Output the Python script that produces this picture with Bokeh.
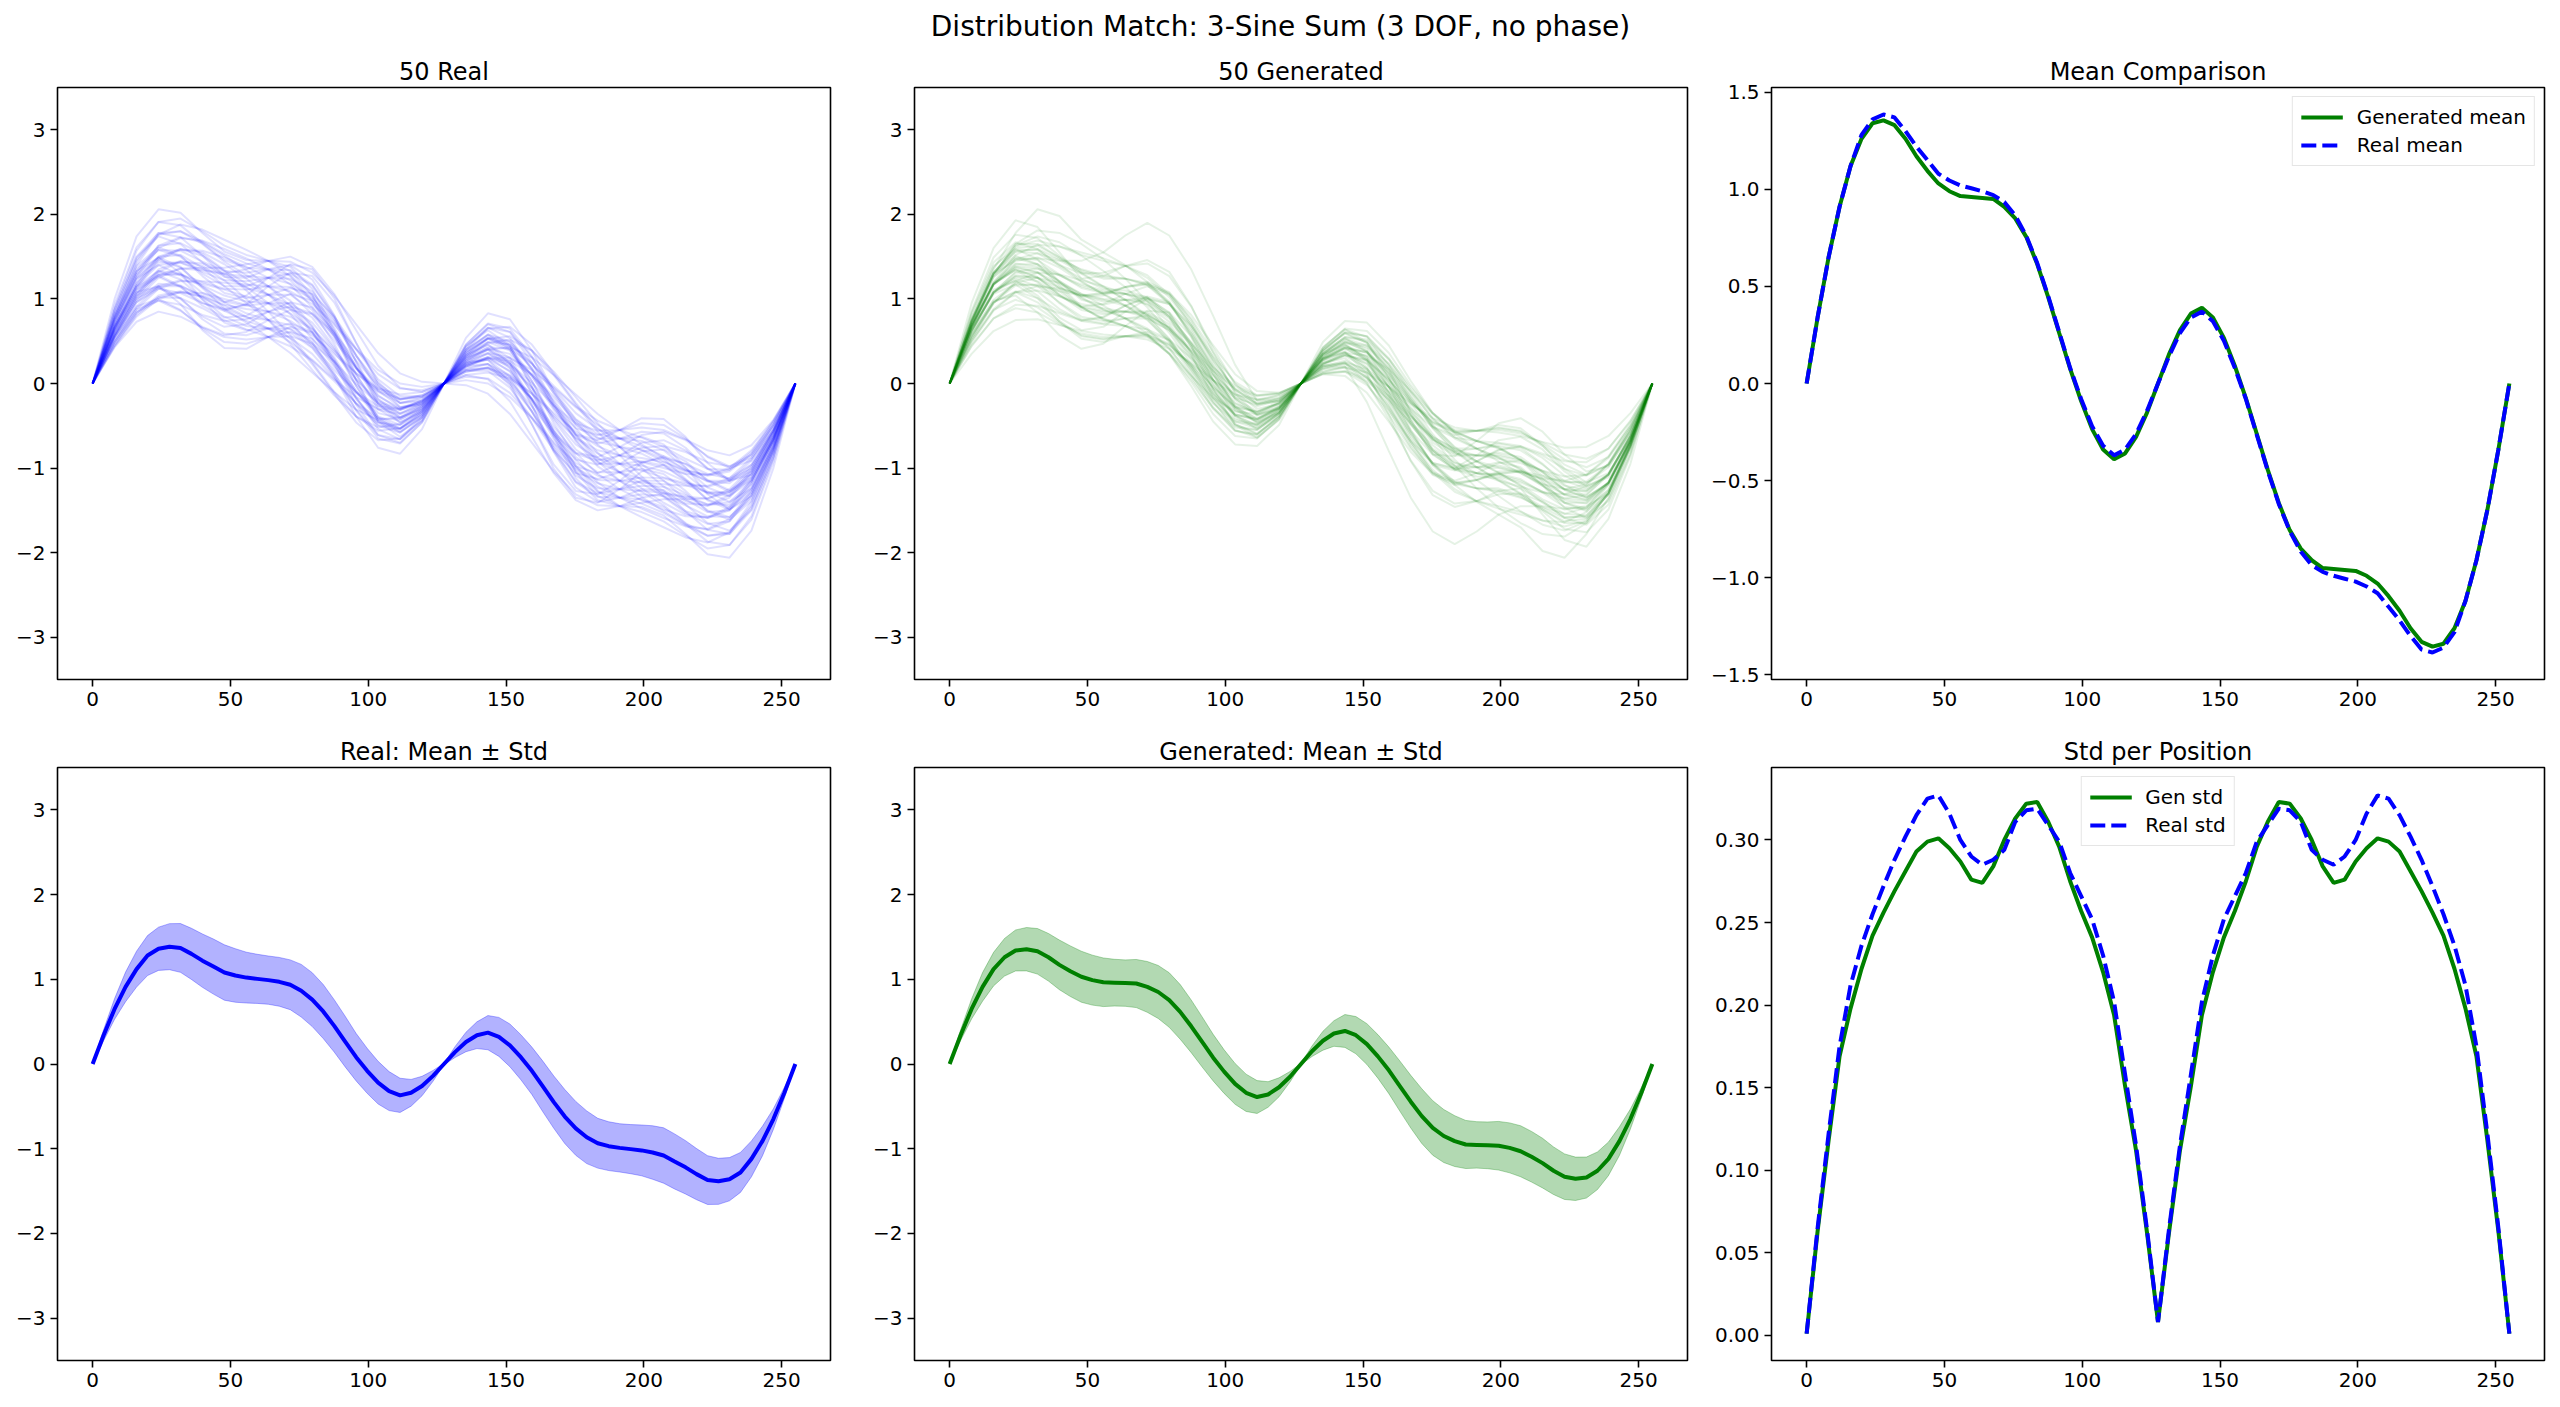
from bokeh.plotting import figure
from bokeh.models import Range1d, FixedTicker, CustomJSTickFormatter, Legend, LegendItem, Label
from bokeh.layouts import column, row
from bokeh.embed import file_html
from bokeh.resources import INLINE

FONT = "DejaVu Sans"
BLUE = "#0000ff"
GREEN = "#008000"

SUPTITLE = "Distribution Match: 3-Sine Sum (3 DOF, no phase)"
TITLES = ["50 Real", "50 Generated", "Mean Comparison",
          "Real: Mean \u00b1 Std", "Generated: Mean \u00b1 Std", "Std per Position"]

X_TICKS = [0, 50, 100, 150, 200, 250]
Y_TICKS_CURVES = [-3, -2, -1, 0, 1, 2, 3]
Y_TICKS_MEAN = [-1.5, -1.0, -0.5, 0.0, 0.5, 1.0, 1.5]
Y_TICKS_STD = [0.0, 0.05, 0.10, 0.15, 0.20, 0.25, 0.30]

# sample positions: 33 for the individual curves, 65 for the mean / std curves
X33 = [0, 7.97, 15.94, 23.91, 31.88, 39.84, 47.81, 55.78, 63.75, 71.72, 79.69,
       87.66, 95.63, 103.59, 111.56, 119.53, 127.5, 135.47, 143.44, 151.41, 159.38,
       167.34, 175.31, 183.28, 191.25, 199.22, 207.19, 215.16, 223.13, 231.09,
       239.06, 247.03, 255]
X65 = [0, 3.98, 7.97, 11.95, 15.94, 19.92, 23.91, 27.89, 31.88, 35.86, 39.84, 43.83,
       47.81, 51.8, 55.78, 59.77, 63.75, 67.73, 71.72, 75.7, 79.69, 83.67, 87.66, 91.64,
       95.63, 99.61, 103.59, 107.58, 111.56, 115.55, 119.53, 123.52, 127.5, 131.48,
       135.47, 139.45, 143.44, 147.42, 151.41, 155.39, 159.38, 163.36, 167.34, 171.33,
       175.31, 179.3, 183.28, 187.27, 191.25, 195.23, 199.22, 203.2, 207.19, 211.17,
       215.16, 219.14, 223.13, 227.11, 231.09, 235.08, 239.06, 243.05, 247.03, 251.02, 255]

REAL_CURVES = [
    [0,.46,.83,1.04,1.09,1.02,.88,.72,.55,.36,.13,-.10,-.31,-.43,-.40,-.25,0,.25,.40,.43,.31,.10,-.13,-.36,-.55,-.72,-.88,-1.02,-1.09,-1.04,-.83,-.46,0],
    [0,.62,1.04,1.15,1.01,.76,.59,.57,.65,.71,.61,.31,-.09,-.43,-.54,-.37,0,.37,.54,.43,.09,-.31,-.61,-.71,-.65,-.57,-.59,-.76,-1.01,-1.15,-1.04,-.62,0],
    [0,.64,1.11,1.33,1.30,1.14,.96,.83,.75,.64,.43,.11,-.24,-.49,-.54,-.35,0,.35,.54,.49,.24,-.11,-.43,-.64,-.75,-.83,-.96,-1.14,-1.30,-1.33,-1.11,-.64,0],
    [0,.66,1.19,1.50,1.59,1.51,1.33,1.10,.85,.57,.25,-.10,-.39,-.56,-.53,-.33,0,.33,.53,.56,.39,.10,-.25,-.57,-.85,-1.10,-1.33,-1.51,-1.59,-1.50,-1.19,-.66,0],
    [0,.68,1.14,1.28,1.15,.92,.78,.80,.95,1.06,.98,.66,.19,-.23,-.42,-.31,0,.31,.42,.23,-.19,-.66,-.98,-1.06,-.95,-.80,-.78,-.92,-1.15,-1.28,-1.14,-.68,0],
    [0,.56,.96,1.12,1.07,.95,.88,.93,1.05,1.13,1.06,.79,.41,.05,-.15,-.15,0,.15,.15,-.05,-.41,-.79,-1.06,-1.13,-1.05,-.93,-.88,-.95,-1.07,-1.12,-.96,-.56,0],
    [0,.72,1.29,1.63,1.73,1.67,1.51,1.34,1.15,.92,.61,.25,-.11,-.35,-.41,-.27,0,.27,.41,.35,.11,-.25,-.61,-.92,-1.15,-1.34,-1.51,-1.67,-1.73,-1.63,-1.29,-.72,0],
    [0,.74,1.24,1.40,1.28,1.07,.96,1.04,1.25,1.41,1.35,1.01,.48,-.01,-.28,-.25,0,.25,.28,.01,-.48,-1.01,-1.35,-1.41,-1.25,-1.04,-.96,-1.07,-1.28,-1.40,-1.24,-.74,0],
    [0,.76,1.32,1.58,1.57,1.44,1.33,1.31,1.35,1.34,1.17,.80,.33,-.08,-.28,-.23,0,.23,.28,.08,-.33,-.80,-1.17,-1.34,-1.35,-1.31,-1.33,-1.44,-1.57,-1.58,-1.32,-.76,0],
    [0,.78,1.40,1.76,1.88,1.82,1.70,1.58,1.45,1.27,.98,.59,.18,-.15,-.29,-.21,0,.21,.29,.15,-.18,-.59,-.98,-1.27,-1.45,-1.58,-1.70,-1.82,-1.88,-1.76,-1.40,-.78,0],
    [0,.43,.73,.85,.79,.66,.55,.52,.55,.56,.47,.26,-.01,-.23,-.31,-.22,0,.22,.31,.23,.01,-.26,-.47,-.56,-.55,-.52,-.55,-.66,-.79,-.85,-.73,-.43,0],
    [0,.45,.81,1.02,1.08,1.03,.92,.79,.65,.49,.28,.05,-.16,-.30,-.31,-.20,0,.20,.31,.30,.16,-.05,-.28,-.49,-.65,-.79,-.92,-1.03,-1.08,-1.02,-.81,-.45,0],
    [0,.76,1.29,1.49,1.38,1.13,.89,.78,.75,.69,.49,.12,-.32,-.65,-.71,-.46,0,.46,.71,.65,.32,-.12,-.49,-.69,-.75,-.78,-.89,-1.13,-1.38,-1.49,-1.29,-.76,0],
    [0,.49,.84,.98,.93,.81,.74,.76,.85,.91,.83,.60,.27,-.03,-.19,-.16,0,.16,.19,.03,-.27,-.60,-.83,-.91,-.85,-.76,-.74,-.81,-.93,-.98,-.84,-.49,0],
    [0,.51,.91,1.15,1.22,1.18,1.11,1.03,.95,.83,.65,.39,.12,-.09,-.19,-.14,0,.14,.19,.09,-.12,-.39,-.65,-.83,-.95,-1.03,-1.11,-1.18,-1.22,-1.15,-.91,-.51,0],
    [0,.81,1.39,1.61,1.51,1.27,1.07,1.01,1.05,1.05,.87,.47,-.03,-.44,-.58,-.40,0,.40,.58,.44,.03,-.47,-.87,-1.05,-1.05,-1.01,-1.07,-1.27,-1.51,-1.61,-1.39,-.81,0],
    [0,.83,1.46,1.78,1.80,1.65,1.44,1.28,1.15,.98,.68,.27,-.18,-.50,-.58,-.38,0,.38,.58,.50,.18,-.27,-.68,-.98,-1.15,-1.28,-1.44,-1.65,-1.80,-1.78,-1.46,-.83,0],
    [0,.57,1.02,1.28,1.36,1.34,1.29,1.27,1.25,1.18,1.02,.74,.40,.11,-.06,-.08,0,.08,.06,-.11,-.40,-.74,-1.02,-1.18,-1.25,-1.27,-1.29,-1.34,-1.36,-1.28,-1.02,-.57,0],
    [0,.87,1.49,1.74,1.65,1.43,1.26,1.25,1.35,1.40,1.23,.81,.25,-.24,-.46,-.34,0,.34,.46,.24,-.25,-.81,-1.23,-1.40,-1.35,-1.25,-1.26,-1.43,-1.65,-1.74,-1.49,-.87,0],
    [0,.89,1.57,1.91,1.95,1.80,1.63,1.52,1.45,1.33,1.05,.61,.11,-.30,-.46,-.32,0,.32,.46,.30,-.11,-.61,-1.05,-1.33,-1.45,-1.52,-1.63,-1.80,-1.95,-1.91,-1.57,-.89,0],
    [0,.55,.91,1.00,.87,.65,.49,.47,.55,.61,.53,.27,-.09,-.39,-.49,-.33,0,.33,.49,.39,.09,-.27,-.53,-.61,-.55,-.47,-.49,-.65,-.87,-1.00,-.91,-.55,0],
    [0,.57,.98,1.18,1.16,1.02,.86,.74,.65,.54,.35,.06,-.24,-.46,-.49,-.31,0,.31,.49,.46,.24,-.06,-.35,-.54,-.65,-.74,-.86,-1.02,-1.16,-1.18,-.98,-.57,0],
    [0,.58,1.06,1.35,1.45,1.39,1.22,1.00,.75,.47,.16,-.14,-.39,-.52,-.48,-.29,0,.29,.48,.52,.39,.14,-.16,-.47,-.75,-1.00,-1.22,-1.39,-1.45,-1.35,-1.06,-.58,0],
    [0,.60,1.01,1.13,1.00,.79,.67,.70,.85,.96,.90,.62,.20,-.18,-.36,-.27,0,.27,.36,.18,-.20,-.62,-.90,-.96,-.85,-.70,-.67,-.79,-1.00,-1.13,-1.01,-.60,0],
    [0,.62,1.08,1.30,1.29,1.16,1.04,.97,.95,.89,.72,.41,.05,-.24,-.35,-.25,0,.25,.35,.24,-.05,-.41,-.72,-.89,-.95,-.97,-1.04,-1.16,-1.29,-1.30,-1.08,-.62,0],
    [0,.64,1.16,1.48,1.59,1.55,1.41,1.24,1.05,.82,.53,.20,-.11,-.31,-.36,-.23,0,.23,.36,.31,.11,-.20,-.53,-.82,-1.05,-1.24,-1.41,-1.55,-1.59,-1.48,-1.16,-.64,0],
    [0,.66,1.11,1.26,1.14,.95,.86,.94,1.15,1.31,1.27,.96,.48,.02,-.23,-.21,0,.21,.23,-.02,-.48,-.96,-1.27,-1.31,-1.15,-.94,-.86,-.95,-1.14,-1.26,-1.11,-.66,0],
    [0,.68,1.19,1.43,1.43,1.32,1.22,1.21,1.25,1.24,1.09,.76,.33,-.04,-.23,-.19,0,.19,.23,.04,-.33,-.76,-1.09,-1.24,-1.25,-1.21,-1.22,-1.32,-1.43,-1.43,-1.19,-.68,0],
    [0,.70,1.26,1.60,1.72,1.69,1.59,1.48,1.35,1.17,.90,.55,.18,-.10,-.23,-.17,0,.17,.23,.10,-.18,-.55,-.90,-1.17,-1.35,-1.48,-1.59,-1.69,-1.72,-1.60,-1.26,-.70,0],
    [0,1.00,1.74,2.06,2.02,1.78,1.56,1.46,1.45,1.38,1.12,.63,.04,-.45,-.63,-.44,0,.44,.63,.45,-.04,-.63,-1.12,-1.38,-1.45,-1.46,-1.56,-1.78,-2.02,-2.06,-1.74,-1.00,0],
    [0,.66,1.08,1.15,.94,.63,.42,.41,.55,.67,.60,.29,-.16,-.54,-.66,-.44,0,.44,.66,.54,.16,-.29,-.60,-.67,-.55,-.41,-.42,-.63,-.94,-1.15,-1.08,-.66,0],
    [0,.68,1.15,1.33,1.23,1.00,.79,.68,.65,.60,.42,.08,-.31,-.61,-.66,-.42,0,.42,.66,.61,.31,-.08,-.42,-.60,-.65,-.68,-.79,-1.00,-1.23,-1.33,-1.15,-.68,0],
    [0,.70,1.23,1.50,1.52,1.37,1.15,.95,.75,.53,.23,-.12,-.46,-.67,-.65,-.40,0,.40,.65,.67,.46,.12,-.23,-.53,-.75,-.95,-1.15,-1.37,-1.52,-1.50,-1.23,-.70,0],
    [0,.44,.79,1.00,1.08,1.07,1.00,.93,.85,.74,.57,.35,.12,-.06,-.13,-.10,0,.10,.13,.06,-.12,-.35,-.57,-.74,-.85,-.93,-1.00,-1.07,-1.08,-1.00,-.79,-.44,0],
    [0,.74,1.26,1.46,1.37,1.15,.97,.92,.95,.95,.78,.43,-.03,-.40,-.53,-.37,0,.37,.53,.40,.03,-.43,-.78,-.95,-.95,-.92,-.97,-1.15,-1.37,-1.46,-1.26,-.74,0],
    [0,.76,1.33,1.63,1.66,1.53,1.34,1.18,1.05,.88,.60,.22,-.18,-.46,-.53,-.35,0,.35,.53,.46,.18,-.22,-.60,-.88,-1.05,-1.18,-1.34,-1.53,-1.66,-1.63,-1.33,-.76,0],
    [0,.49,.88,1.12,1.21,1.21,1.19,1.17,1.15,1.09,.94,.70,.41,.16,0,-.04,0,.04,0,-.16,-.41,-.70,-.94,-1.09,-1.15,-1.17,-1.19,-1.21,-1.21,-1.12,-.88,-.49,0],
    [0,.79,1.36,1.58,1.50,1.30,1.15,1.15,1.25,1.30,1.16,.78,.26,-.19,-.40,-.30,0,.30,.40,.19,-.26,-.78,-1.16,-1.30,-1.25,-1.15,-1.15,-1.30,-1.50,-1.58,-1.36,-.79,0],
    [0,.82,1.44,1.76,1.80,1.68,1.53,1.42,1.35,1.22,.97,.56,.10,-.26,-.40,-.29,0,.29,.40,.26,-.10,-.56,-.97,-1.22,-1.35,-1.42,-1.53,-1.68,-1.80,-1.76,-1.44,-.82,0],
    [0,.55,.99,1.25,1.36,1.37,1.37,1.41,1.45,1.44,1.31,1.04,.70,.36,.12,.02,0,-.02,-.12,-.36,-.70,-1.04,-1.31,-1.44,-1.45,-1.41,-1.37,-1.37,-1.36,-1.25,-.99,-.55,0],
    [0,.49,.85,1.02,1.01,.89,.75,.64,.55,.44,.27,.03,-.23,-.41,-.43,-.27,0,.27,.43,.41,.23,-.03,-.27,-.44,-.55,-.64,-.75,-.89,-1.01,-1.02,-.85,-.49,0],
    [0,.79,1.33,1.49,1.31,.99,.72,.63,.65,.65,.48,.09,-.39,-.76,-.83,-.54,0,.54,.83,.76,.39,-.09,-.48,-.65,-.65,-.63,-.72,-.99,-1.31,-1.49,-1.33,-.79,0],
    [0,.53,.88,.98,.86,.67,.57,.61,.75,.87,.82,.57,.20,-.14,-.31,-.24,0,.24,.31,.14,-.20,-.57,-.82,-.87,-.75,-.61,-.57,-.67,-.86,-.98,-.88,-.53,0],
    [0,.55,.96,1.15,1.15,1.04,.93,.88,.85,.79,.64,.37,.05,-.21,-.30,-.22,0,.22,.30,.21,-.05,-.37,-.64,-.79,-.85,-.88,-.93,-1.04,-1.15,-1.15,-.96,-.55,0],
    [0,.57,1.03,1.32,1.44,1.42,1.30,1.14,.95,.72,.45,.16,-.10,-.27,-.30,-.20,0,.20,.30,.27,.10,-.16,-.45,-.72,-.95,-1.14,-1.30,-1.42,-1.44,-1.32,-1.03,-.57,0],
    [0,.87,1.50,1.78,1.73,1.51,1.27,1.13,1.05,.93,.67,.24,-.25,-.61,-.70,-.46,0,.46,.70,.61,.25,-.24,-.67,-.93,-1.05,-1.13,-1.27,-1.51,-1.73,-1.78,-1.50,-.87,0],
    [0,.61,1.06,1.28,1.29,1.20,1.12,1.11,1.15,1.14,1.00,.71,.33,0,-.18,-.16,0,.16,.18,0,-.33,-.71,-1.00,-1.14,-1.15,-1.11,-1.12,-1.20,-1.29,-1.28,-1.06,-.61,0],
    [0,.63,1.13,1.46,1.58,1.57,1.49,1.38,1.25,1.07,.82,.51,.18,-.07,-.18,-.14,0,.14,.18,.07,-.18,-.51,-.82,-1.07,-1.25,-1.38,-1.49,-1.57,-1.58,-1.46,-1.13,-.63,0],
    [0,.93,1.61,1.91,1.87,1.66,1.46,1.37,1.35,1.28,1.04,.58,.03,-.41,-.57,-.40,0,.40,.57,.41,-.03,-.58,-1.04,-1.28,-1.35,-1.37,-1.46,-1.66,-1.87,-1.91,-1.61,-.93,0],
    [0,.66,1.16,1.40,1.43,1.35,1.30,1.35,1.45,1.50,1.38,1.06,.63,.21,-.05,-.10,0,.10,.05,-.21,-.63,-1.06,-1.38,-1.50,-1.45,-1.35,-1.30,-1.35,-1.43,-1.40,-1.16,-.66,0],
]

GEN_CURVES = [
    [0,.35,.62,.75,.76,.69,.62,.58,.56,.52,.41,.24,.04,-.13,-.19,-.14,0,.14,.19,.13,-.04,-.24,-.41,-.52,-.56,-.58,-.62,-.69,-.76,-.75,-.62,-.35,0],
    [0,.62,1.07,1.28,1.25,1.09,.90,.77,.68,.56,.35,.05,-.29,-.52,-.55,-.35,0,.35,.55,.52,.29,-.05,-.35,-.56,-.68,-.77,-.90,-1.09,-1.25,-1.28,-1.07,-.62,0],
    [0,.63,1.08,1.24,1.15,.96,.79,.74,.77,.77,.63,.32,-.07,-.38,-.49,-.33,0,.33,.49,.38,.07,-.32,-.63,-.77,-.77,-.74,-.79,-.96,-1.15,-1.24,-1.08,-.63,0],
    [0,.67,1.11,1.21,1.04,.78,.63,.67,.85,1.00,.94,.63,.16,-.27,-.46,-.34,0,.34,.46,.27,-.16,-.63,-.94,-1.00,-.85,-.67,-.63,-.78,-1.04,-1.21,-1.11,-.67,0],
    [0,.67,1.19,1.46,1.49,1.37,1.20,1.06,.92,.75,.50,.16,-.19,-.43,-.48,-.31,0,.31,.48,.43,.19,-.16,-.50,-.75,-.92,-1.06,-1.20,-1.37,-1.49,-1.46,-1.19,-.67,0],
    [0,.67,1.17,1.39,1.36,1.21,1.06,1.00,.99,.94,.77,.44,.04,-.29,-.41,-.29,0,.29,.41,.29,-.04,-.44,-.77,-.94,-.99,-1.00,-1.06,-1.21,-1.36,-1.39,-1.17,-.67,0],
    [0,.70,1.18,1.35,1.25,1.05,.91,.94,1.06,1.15,1.05,.72,.25,-.17,-.37,-.28,0,.28,.37,.17,-.25,-.72,-1.05,-1.15,-1.06,-.94,-.91,-1.05,-1.25,-1.35,-1.18,-.70,0],
    [0,.72,1.30,1.63,1.74,1.67,1.51,1.33,1.14,.90,.60,.23,-.12,-.37,-.42,-.28,0,.28,.42,.37,.12,-.23,-.60,-.90,-1.14,-1.33,-1.51,-1.67,-1.74,-1.63,-1.30,-.72,0],
    [0,.73,1.28,1.56,1.59,1.47,1.35,1.28,1.24,1.16,.94,.59,.17,-.18,-.33,-.24,0,.24,.33,.18,-.17,-.59,-.94,-1.16,-1.24,-1.28,-1.35,-1.47,-1.59,-1.56,-1.28,-.73,0],
    [0,.75,1.31,1.56,1.54,1.40,1.30,1.31,1.39,1.42,1.27,.91,.42,-.01,-.24,-.21,0,.21,.24,.01,-.42,-.91,-1.27,-1.42,-1.39,-1.31,-1.30,-1.40,-1.54,-1.56,-1.31,-.75,0],
    [0,.45,.77,.89,.84,.70,.59,.55,.56,.55,.45,.23,-.04,-.27,-.34,-.23,0,.23,.34,.27,.04,-.23,-.45,-.55,-.56,-.55,-.59,-.70,-.84,-.89,-.77,-.45,0],
    [0,.68,1.17,1.38,1.32,1.12,.90,.76,.68,.57,.35,.02,-.36,-.62,-.65,-.42,0,.42,.65,.62,.36,-.02,-.35,-.57,-.68,-.76,-.90,-1.12,-1.32,-1.38,-1.17,-.68,0],
    [0,.70,1.18,1.34,1.20,.95,.76,.71,.77,.80,.66,.33,-.12,-.48,-.59,-.40,0,.40,.59,.48,.12,-.33,-.66,-.80,-.77,-.71,-.76,-.95,-1.20,-1.34,-1.18,-.70,0],
    [0,.50,.88,1.08,1.10,1.03,.94,.89,.85,.78,.63,.39,.10,-.13,-.23,-.17,0,.17,.23,.13,-.10,-.39,-.63,-.78,-.85,-.89,-.94,-1.03,-1.10,-1.08,-.88,-.50,0],
    [0,.75,1.31,1.58,1.58,1.41,1.21,1.05,.92,.76,.49,.12,-.28,-.56,-.61,-.39,0,.39,.61,.56,.28,-.12,-.49,-.76,-.92,-1.05,-1.21,-1.41,-1.58,-1.58,-1.31,-.75,0],
    [0,.73,1.26,1.48,1.41,1.21,1.04,.97,.99,.97,.79,.44,-.01,-.38,-.50,-.35,0,.35,.50,.38,.01,-.44,-.79,-.97,-.99,-.97,-1.04,-1.21,-1.41,-1.48,-1.26,-.73,0],
    [0,.53,.95,1.21,1.31,1.29,1.22,1.15,1.06,.93,.73,.47,.19,-.03,-.14,-.11,0,.11,.14,.03,-.19,-.47,-.73,-.93,-1.06,-1.15,-1.22,-1.29,-1.31,-1.21,-.95,-.53,0],
    [0,.55,.96,1.16,1.17,1.09,1.04,1.07,1.14,1.17,1.07,.81,.45,.11,-.09,-.11,0,.11,.09,-.11,-.45,-.81,-1.07,-1.17,-1.14,-1.07,-1.04,-1.09,-1.17,-1.16,-.96,-.55,0],
    [0,.78,1.37,1.65,1.65,1.49,1.34,1.26,1.24,1.17,.95,.57,.11,-.27,-.42,-.30,0,.30,.42,.27,-.11,-.57,-.95,-1.17,-1.24,-1.26,-1.34,-1.49,-1.65,-1.65,-1.37,-.78,0],
    [0,.84,1.43,1.67,1.59,1.39,1.24,1.27,1.39,1.46,1.32,.92,.37,-.12,-.37,-.30,0,.30,.37,.12,-.37,-.92,-1.32,-1.46,-1.39,-1.27,-1.24,-1.39,-1.59,-1.67,-1.43,-.84,0],
    [0,.51,.87,.99,.90,.72,.57,.53,.56,.57,.46,.22,-.10,-.36,-.44,-.30,0,.30,.44,.36,.10,-.22,-.46,-.57,-.56,-.53,-.57,-.72,-.90,-.99,-.87,-.51,0],
    [0,.76,1.30,1.51,1.41,1.16,.91,.75,.68,.58,.35,-.03,-.45,-.72,-.74,-.49,0,.49,.74,.72,.45,.03,-.35,-.58,-.68,-.75,-.91,-1.16,-1.41,-1.51,-1.30,-.76,0],
    [0,.53,.95,1.19,1.25,1.19,1.06,.92,.77,.59,.36,.09,-.17,-.33,-.36,-.23,0,.23,.36,.33,.17,-.09,-.36,-.59,-.77,-.92,-1.06,-1.19,-1.25,-1.19,-.95,-.53,0],
    [0,.57,.99,1.18,1.16,1.03,.91,.86,.85,.81,.66,.38,.04,-.24,-.34,-.24,0,.24,.34,.24,-.04,-.38,-.66,-.81,-.85,-.86,-.91,-1.03,-1.16,-1.18,-.99,-.57,0],
    [0,.56,.96,1.09,1.01,.85,.75,.79,.92,1.01,.94,.68,.29,-.07,-.25,-.21,0,.21,.25,.07,-.29,-.68,-.94,-1.01,-.92,-.79,-.75,-.85,-1.01,-1.09,-.96,-.56,0],
    [0,.82,1.39,1.59,1.47,1.20,.99,.93,.99,1.01,.84,.44,-.07,-.49,-.64,-.43,0,.43,.64,.49,.07,-.44,-.84,-1.01,-.99,-.93,-.99,-1.20,-1.47,-1.59,-1.39,-.82,0],
    [0,.61,1.08,1.32,1.36,1.28,1.17,1.10,1.06,.98,.79,.49,.14,-.15,-.27,-.20,0,.20,.27,.15,-.14,-.49,-.79,-.98,-1.06,-1.10,-1.17,-1.28,-1.36,-1.32,-1.08,-.61,0],
    [0,.62,1.07,1.27,1.25,1.13,1.04,1.06,1.14,1.18,1.06,.77,.37,0,-.19,-.17,0,.17,.19,0,-.37,-.77,-1.06,-1.18,-1.14,-1.06,-1.04,-1.13,-1.25,-1.27,-1.07,-.62,0],
    [0,.86,1.49,1.76,1.72,1.51,1.32,1.24,1.24,1.19,.97,.55,.04,-.38,-.54,-.38,0,.38,.54,.38,-.04,-.55,-.97,-1.19,-1.24,-1.24,-1.32,-1.51,-1.72,-1.76,-1.49,-.86,0],
    [0,.67,1.20,1.52,1.64,1.62,1.55,1.48,1.39,1.25,1.02,.69,.32,.02,-.14,-.12,0,.12,.14,-.02,-.32,-.69,-1.02,-1.25,-1.39,-1.48,-1.55,-1.62,-1.64,-1.52,-1.20,-.67,0],
    [0,.57,.96,1.08,.96,.74,.56,.52,.56,.58,.47,.20,-.16,-.45,-.53,-.35,0,.35,.53,.45,.16,-.20,-.47,-.58,-.56,-.52,-.56,-.74,-.96,-1.08,-.96,-.57,0],
    [0,.60,.98,1.04,.84,.57,.41,.47,.68,.86,.84,.56,.12,-.29,-.47,-.34,0,.34,.47,.29,-.12,-.56,-.84,-.86,-.68,-.47,-.41,-.57,-.84,-1.04,-.98,-.60,0],
    [0,.62,1.08,1.31,1.31,1.18,1.02,.88,.77,.63,.41,.10,-.23,-.45,-.49,-.32,0,.32,.49,.45,.23,-.10,-.41,-.63,-.77,-.88,-1.02,-1.18,-1.31,-1.31,-1.08,-.62,0],
    [0,.63,1.08,1.26,1.21,1.04,.90,.84,.85,.83,.67,.37,-.01,-.32,-.43,-.29,0,.29,.43,.32,.01,-.37,-.67,-.83,-.85,-.84,-.90,-1.04,-1.21,-1.26,-1.08,-.63,0],
    [0,.65,1.08,1.22,1.09,.88,.74,.78,.92,1.03,.96,.66,.21,-.19,-.38,-.29,0,.29,.38,.19,-.21,-.66,-.96,-1.03,-.92,-.78,-.74,-.88,-1.09,-1.22,-1.08,-.65,0],
    [0,.66,1.17,1.47,1.54,1.46,1.31,1.15,.99,.79,.52,.19,-.14,-.37,-.42,-.27,0,.27,.42,.37,.14,-.19,-.52,-.79,-.99,-1.15,-1.31,-1.46,-1.54,-1.47,-1.17,-.66,0],
    [0,.67,1.17,1.41,1.41,1.28,1.15,1.08,1.06,1.00,.81,.48,.09,-.23,-.36,-.26,0,.26,.36,.23,-.09,-.48,-.81,-1.00,-1.06,-1.08,-1.15,-1.28,-1.41,-1.41,-1.17,-.67,0],
    [0,.68,1.17,1.37,1.31,1.14,1.03,1.04,1.14,1.20,1.08,.75,.31,-.10,-.30,-.24,0,.24,.30,.10,-.31,-.75,-1.08,-1.20,-1.14,-1.04,-1.03,-1.14,-1.31,-1.37,-1.17,-.68,0],
    [0,.70,1.28,1.65,1.81,1.78,1.65,1.47,1.24,.97,.64,.28,-.05,-.28,-.33,-.22,0,.22,.33,.28,.05,-.28,-.64,-.97,-1.24,-1.47,-1.65,-1.78,-1.81,-1.65,-1.28,-.70,0],
    [0,.73,1.30,1.62,1.69,1.62,1.52,1.45,1.39,1.28,1.05,.69,.27,-.07,-.24,-.19,0,.19,.24,.07,-.27,-.69,-1.05,-1.28,-1.39,-1.45,-1.52,-1.62,-1.69,-1.62,-1.30,-.73,0],
    [0,.64,1.06,1.17,1.01,.73,.53,.49,.56,.61,.51,.20,-.21,-.55,-.64,-.42,0,.42,.64,.55,.21,-.20,-.51,-.61,-.56,-.49,-.53,-.73,-1.01,-1.17,-1.06,-.64,0],
    [0,.44,.77,.93,.92,.83,.74,.70,.68,.64,.52,.30,.04,-.17,-.25,-.18,0,.18,.25,.17,-.04,-.30,-.52,-.64,-.68,-.70,-.74,-.83,-.92,-.93,-.77,-.44,0],
    [0,.68,1.19,1.42,1.38,1.20,1.01,.87,.77,.65,.42,.08,-.30,-.56,-.60,-.38,0,.38,.60,.56,.30,-.08,-.42,-.65,-.77,-.87,-1.01,-1.20,-1.38,-1.42,-1.19,-.68,0],
    [0,.69,1.17,1.35,1.26,1.05,.87,.82,.85,.85,.70,.37,-.06,-.41,-.52,-.36,0,.36,.52,.41,.06,-.37,-.70,-.85,-.85,-.82,-.87,-1.05,-1.26,-1.35,-1.17,-.69,0],
    [0,.48,.86,1.08,1.15,1.12,1.05,.99,.92,.82,.65,.41,.15,-.06,-.15,-.12,0,.12,.15,.06,-.15,-.41,-.65,-.82,-.92,-.99,-1.05,-1.12,-1.15,-1.08,-.86,-.48,0],
    [0,.74,1.31,1.60,1.63,1.49,1.30,1.14,.99,.81,.53,.16,-.23,-.50,-.55,-.35,0,.35,.55,.50,.23,-.16,-.53,-.81,-.99,-1.14,-1.30,-1.49,-1.63,-1.60,-1.31,-.74,0],
    [0,.73,1.26,1.49,1.46,1.29,1.13,1.07,1.06,1.02,.83,.47,.04,-.31,-.45,-.31,0,.31,.45,.31,-.04,-.47,-.83,-1.02,-1.06,-1.07,-1.13,-1.29,-1.46,-1.49,-1.26,-.73,0],
    [0,.75,1.35,1.78,2.06,1.98,1.70,1.55,1.40,1.20,.95,.60,.20,-.08,-.20,-.14,0,.14,.20,.08,-.20,-.60,-.95,-1.20,-1.40,-1.55,-1.70,-1.98,-2.06,-1.78,-1.35,-.75,0],
    [0,.70,1.30,1.45,1.48,1.45,1.45,1.55,1.75,1.90,1.75,1.35,.80,.22,-.20,-.20,0,.20,.20,-.22,-.80,-1.35,-1.75,-1.90,-1.75,-1.55,-1.45,-1.45,-1.48,-1.45,-1.30,-.70,0],
    [0,.95,1.60,1.93,1.85,1.55,1.24,1.12,1.10,1.02,.79,.35,-.17,-.48,-.60,-.40,0,.40,.60,.48,.17,-.35,-.79,-1.02,-1.10,-1.12,-1.24,-1.55,-1.85,-1.93,-1.60,-.95,0],
]

REAL_MEAN = [0, .34, .65, .91, 1.12, 1.28, 1.36, 1.385, 1.37, 1.30, 1.22, 1.15, 1.08, 1.045,
             1.02, 1.005, .99, .97, .935, .865, .76, .62, .45, .265, .08, -.08, -.22, -.32,
             -.37, -.34, -.26, -.14, 0, .14, .26, .34, .37, .32, .22, .08, -.08, -.265, -.45,
             -.62, -.76, -.865, -.935, -.97, -.99, -1.005, -1.02, -1.045, -1.08, -1.15, -1.22,
             -1.30, -1.37, -1.385, -1.36, -1.28, -1.12, -.91, -.65, -.34, 0]
GEN_MEAN = [0, .34, .65, .91, 1.12, 1.26, 1.34, 1.355, 1.33, 1.26, 1.17, 1.095, 1.03, .99,
            .965, .96, .955, .95, .91, .85, .755, .615, .445, .26, .075, -.09, -.235, -.34,
            -.39, -.36, -.275, -.15, 0, .15, .275, .36, .39, .34, .235, .09, -.075, -.26,
            -.445, -.615, -.755, -.85, -.91, -.95, -.955, -.96, -.965, -.99, -1.03, -1.095,
            -1.17, -1.26, -1.33, -1.355, -1.34, -1.26, -1.12, -.91, -.65, -.34, 0]
REAL_STD = [.001, .065, .122, .175, .212, .236, .255, .272, .288, .302, .315, .325, .327,
            .316, .300, .290, .285, .288, .294, .311, .318, .319, .309, .299, .280, .266,
            .252, .230, .202, .158, .115, .064, .008, .064, .115, .158, .202, .230, .252,
            .266, .280, .299, .309, .319, .318, .311, .294, .288, .285, .290, .300, .316,
            .327, .325, .315, .302, .288, .272, .255, .236, .212, .175, .122, .065, .001]
GEN_STD = [.001, .063, .118, .169, .198, .222, .242, .256, .269, .281, .293, .299, .301,
           .295, .287, .276, .274, .284, .300, .313, .322, .323, .311, .296, .275, .257,
           .241, .220, .194, .151, .112, .062, .008, .062, .112, .151, .194, .220, .241,
           .257, .275, .296, .311, .323, .322, .313, .300, .284, .274, .276, .287, .295,
           .301, .299, .293, .281, .269, .256, .242, .222, .198, .169, .118, .063, .001]

FRAME_W = 773


def make_fig(title, ylim, yticks, ydec, left, right, top, bottom, height):
    p = figure(width=left + FRAME_W + right, height=height,
               x_range=Range1d(-12.75, 267.75), y_range=Range1d(ylim[0], ylim[1]),
               toolbar_location=None, output_backend="svg", title=title,
               min_border_left=left, min_border_right=right,
               min_border_top=top, min_border_bottom=bottom)
    p.title.align = "center"
    p.title.text_font = FONT
    p.title.text_font_size = "24px"
    p.title.text_font_style = "normal"
    p.title.text_color = "black"
    p.title.standoff = 4
    p.grid.visible = False
    p.background_fill_color = "white"
    p.border_fill_color = "white"
    p.outline_line_color = "black"
    p.outline_line_width = 1.6
    p.outline_line_alpha = 1.0
    for ax in (p.xaxis[0], p.yaxis[0]):
        ax.axis_line_color = None
        ax.major_tick_line_color = "black"
        ax.major_tick_line_width = 1.6
        ax.major_tick_out = 7
        ax.major_tick_in = 0
        ax.minor_tick_line_color = None
        ax.major_label_text_font = FONT
        ax.major_label_text_font_size = "20px"
        ax.major_label_text_color = "black"
        ax.major_label_standoff = 5
    p.xaxis.ticker = FixedTicker(ticks=X_TICKS)
    p.yaxis.ticker = FixedTicker(ticks=yticks)
    p.yaxis.formatter = CustomJSTickFormatter(
        code="return tick.toFixed(%d).replace('-', '\u2212');" % ydec)
    return p


def style_legend(leg):
    leg.label_text_font = FONT
    leg.label_text_font_size = "20px"
    leg.label_text_color = "black"
    leg.glyph_width = 42
    leg.glyph_height = 20
    leg.label_height = 20
    leg.label_standoff = 14
    leg.spacing = 4
    leg.padding = 8
    leg.margin = 9
    leg.border_line_color = "#cccccc"
    leg.border_line_width = 1.5
    leg.background_fill_color = "white"
    leg.background_fill_alpha = 0.8


# ---- suptitle ----
head = figure(width=2560, height=44, x_range=Range1d(0, 2560), y_range=Range1d(0, 44),
              toolbar_location=None, output_backend="svg", min_border=0,
              x_axis_type=None, y_axis_type=None)
head.outline_line_color = None
head.background_fill_color = "white"
head.border_fill_color = "white"
head.add_layout(Label(x=1280, y=18, text=SUPTITLE, text_align="center",
                      text_baseline="middle", text_font=FONT, text_font_size="28px",
                      text_color="black"))

H1 = 43 + 592 + 45
H2 = 43 + 593 + 47

# ---- top row ----
f1 = make_fig(TITLES[0], (-3.5, 3.5), Y_TICKS_CURVES, 0, 57, 14, 43, 45, H1)
f1.multi_line(xs=[X33] * len(REAL_CURVES), ys=REAL_CURVES, line_color=BLUE,
              line_alpha=0.12, line_width=2)

f2 = make_fig(TITLES[1], (-3.5, 3.5), Y_TICKS_CURVES, 0, 70, 14, 43, 45, H1)
f2.multi_line(xs=[X33] * len(GEN_CURVES), ys=GEN_CURVES, line_color=GREEN,
              line_alpha=0.1, line_width=2)

f3 = make_fig(TITLES[2], (-1.524, 1.524), Y_TICKS_MEAN, 1, 70, 16, 43, 45, H1)
r_gm = f3.line(X65, GEN_MEAN, line_color=GREEN, line_width=4)
r_rm = f3.line(X65, REAL_MEAN, line_color=BLUE, line_width=4, line_dash="15 6")
leg3 = Legend(items=[LegendItem(label="Generated mean", renderers=[r_gm]),
                     LegendItem(label="Real mean", renderers=[r_rm])],
              location="top_right")
style_legend(leg3)
f3.add_layout(leg3)


# ---- bottom row ----
def band_fig(title, mean, std, color, left, right):
    p = make_fig(title, (-3.5, 3.5), Y_TICKS_CURVES, 0, left, right, 43, 47, H2)
    lower = [m - s for m, s in zip(mean, std)]
    upper = [m + s for m, s in zip(mean, std)]
    p.varea(x=X65, y1=lower, y2=upper, fill_color=color, fill_alpha=0.3)
    p.line(X65, lower, line_color=color, line_alpha=0.3, line_width=1)
    p.line(X65, upper, line_color=color, line_alpha=0.3, line_width=1)
    p.line(X65, mean, line_color=color, line_width=4)
    return p


f4 = band_fig(TITLES[3], REAL_MEAN, REAL_STD, BLUE, 57, 14)
f5 = band_fig(TITLES[4], GEN_MEAN, GEN_STD, GREEN, 70, 14)

f6 = make_fig(TITLES[5], (-0.0153, 0.3439), Y_TICKS_STD, 2, 70, 16, 43, 47, H2)
r_gs = f6.line(X65, GEN_STD, line_color=GREEN, line_width=4)
r_rs = f6.line(X65, REAL_STD, line_color=BLUE, line_width=4, line_dash="15 6")
leg6 = Legend(items=[LegendItem(label="Gen std", renderers=[r_gs]),
                     LegendItem(label="Real std", renderers=[r_rs])],
              location="top_center")
style_legend(leg6)
f6.add_layout(leg6)

layout = column(head, row(f1, f2, f3), row(f4, f5, f6))

open("out.html", "w").write(file_html(layout, INLINE))
